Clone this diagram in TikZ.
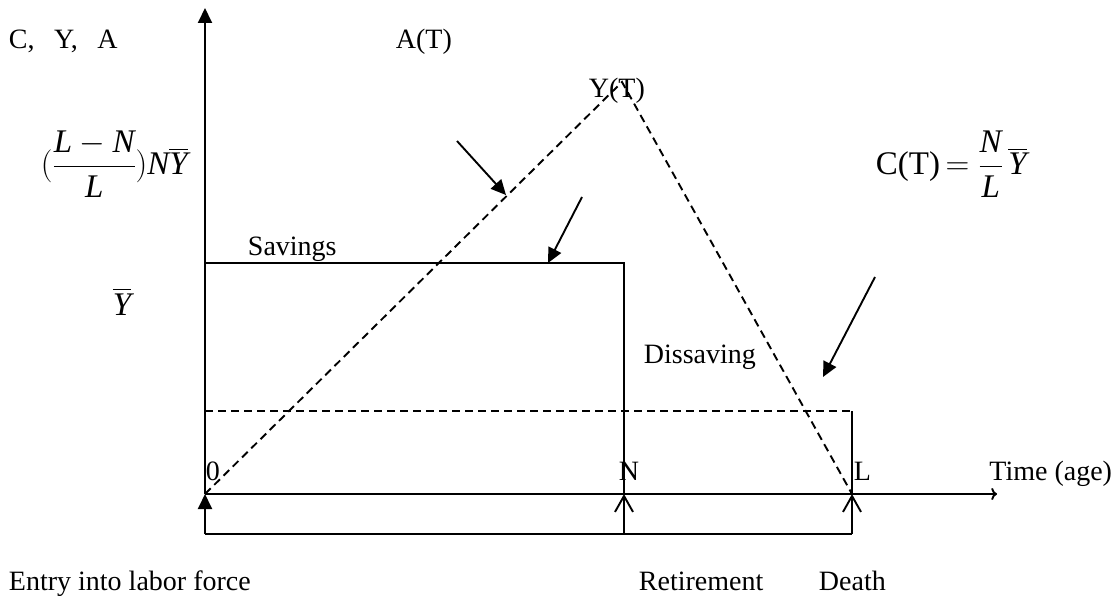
\RequirePackage{fix-cm}
\documentclass[tikz,border=0pt]{standalone}
\usepackage{amsmath}
\usepackage{fontspec}
\setmainfont{Liberation Serif}
\usetikzlibrary{arrows.meta}
\DeclareMathSizes{28}{28}{20}{15}
\DeclareMathSizes{33}{33}{24}{18}
\begin{document}
\begin{tikzpicture}[x=1pt,y=-1pt,line width=1.9pt,
    font=\fontsize{28}{32}\selectfont]
        % Styles
        \tikzstyle{label text}=[inner sep=0pt,anchor=base west]
        \tikzstyle{formula}=[inner sep=0pt,anchor=west,font=\fontsize{33}{38}\selectfont]
        \tikzstyle{filled tip}=[-{Triangle[length=15pt,width=14pt]}]
        \tikzstyle{open tip}=[-{Straight Barb[length=16pt,width=18pt]}]
        \tikzstyle{budget line}=[dash pattern=on 8pt off 5pt]
        \useasboundingbox (0,0) rectangle (1115,596);
        %points
        \coordinate (O) at (205,494);
        \coordinate (y top) at (205,8);
        \coordinate (x end) at (997,494);
        \coordinate (N) at (624,494);
        \coordinate (L) at (852,494);
        \coordinate (peak) at (622,82);
        \coordinate (save left) at (205,263);
        \coordinate (save right) at (624,263);
        \coordinate (cons left) at (205,411);
        \coordinate (cons right) at (852,411);
        \coordinate (entry) at (205,534);
        \coordinate (retire) at (624,534);
        \coordinate (death) at (852,534);
        %axes
        \draw[filled tip] (O) -- (y top);
        \draw[->] (O) -- (x end);
        %income and consumption
        \draw (save left) -- (save right) -- (N);
        \draw[budget line] (cons left) -- (cons right);
        \draw (cons right) -- (L);
        \draw[budget line] (O) -- (peak) -- (L);
        %life events
        \draw (entry) -- (death);
        \draw[filled tip] (entry) -- (O);
        \draw[open tip] (retire) -- (N);
        \draw[open tip] (death) -- (L);
        %pointers
        \coordinate (p1 start) at (457,141);
        \coordinate (p1 end) at (506,195);
        \coordinate (p2 start) at (582,197);
        \coordinate (p2 end) at (548,263);
        \coordinate (p3 start) at (875,277);
        \coordinate (p3 end) at (823,377);
        \draw[filled tip] (p1 start) -- (p1 end);
        \draw[filled tip] (p2 start) -- (p2 end);
        \draw[filled tip] (p3 start) -- (p3 end);
        %labels
        \node[label text] (axis label) at (8,49) {C,\hspace{0.7em}Y,\hspace{0.7em}A};
        \node[label text] (assets) at (395,49) {A(T)};
        \node[label text] (income) at (588,98) {Y(T)};
        \node[formula] (wealth) at (40,164)
            {$\displaystyle(\frac{\textit{L}-\textit{N}}{\textit{L}})\textit{N}\overline{\textit{Y}}$};
        \node[label text,font=\fontsize{33}{38}\selectfont] (ybar) at (112,315) {$\overline{\textit{Y}}$};
        \node[formula] (consumption) at (875,164)
            {C(T)$\displaystyle\,=\frac{\textit{N}}{\textit{L}}\,\overline{\textit{Y}}$};
        \node[label text] (savings) at (247,255) {Savings};
        \node[label text] (dissaving) at (643,363) {Dissaving};
        \node[label text] (zero) at (205,480) {0};
        \node[label text] (N label) at (618,480) {N};
        \node[label text] (L label) at (853,480) {L};
        \node[inner sep=0pt,anchor=base east] (time) at (1113,480) {Time (age)};
        \node[label text] (entry label) at (8,590) {Entry into labor force};
        \node[label text] (retire label) at (638,590) {Retirement};
        \node[label text] (death label) at (818,590) {Death};
\end{tikzpicture}
\end{document}
